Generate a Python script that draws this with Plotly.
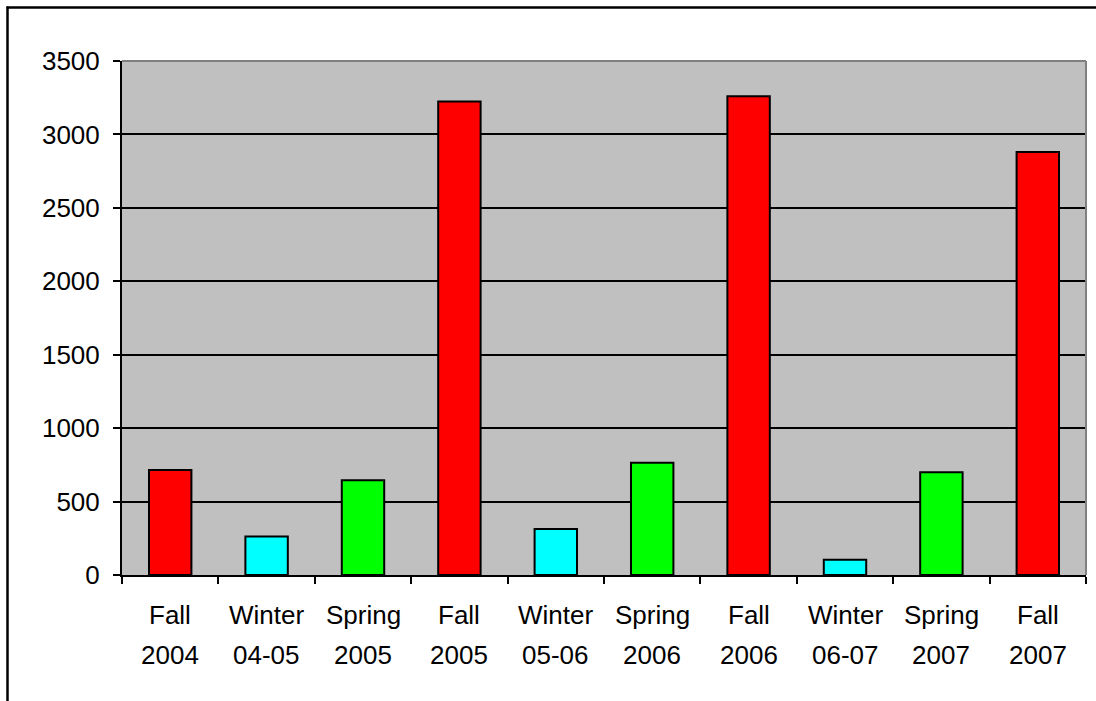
import plotly.graph_objects as go

# Seasonal totals
seasons = ["Fall", "Winter", "Spring", "Fall", "Winter", "Spring", "Fall", "Winter", "Spring", "Fall"]
periods = ["2004", "04-05", "2005", "2005", "05-06", "2006", "2006", "06-07", "2007", "2007"]
values = [715, 263, 645, 3225, 313, 765, 3260, 104, 699, 2880]
season_colors = {"Fall": "#FF0000", "Winter": "#00FFFF", "Spring": "#00FF00"}

categories = [f"{s} {p}" for s, p in zip(seasons, periods)]
bar_colors = [season_colors[s] for s in seasons]

W, H = 1096, 701
ML, MR, MT, MB = 122, 10, 61, 126
PW, PH = W - ML - MR, H - MT - MB

FONT = "Liberation Sans, Arial, sans-serif"
FS = 26

fig = go.Figure(
    go.Bar(
        x=categories,
        y=values,
        marker=dict(color=bar_colors, line=dict(color="black", width=2)),
        width=0.44,
        showlegend=False,
    )
)

# Two-line category labels under the axis
annotations = []
for cat, s, p in zip(categories, seasons, periods):
    for txt, ypix in ((s, 615), (p, 655)):
        annotations.append(dict(
            x=cat, xref="x", y=-(ypix - (MT + PH)) / PH, yref="paper",
            text=txt, showarrow=False, xanchor="center", yanchor="middle",
            font=dict(family=FONT, size=FS, color="black"),
        ))

def px_x(p):
    return (p - ML) / PW

def px_y(p):
    return (MT + PH - p) / PH

shapes = [
    # outer frame: left and top edges (the rest runs off the page)
    dict(type="line", xref="paper", yref="paper",
         x0=px_x(7.5), x1=px_x(7.5), y0=px_y(H), y1=px_y(6.5),
         line=dict(color="black", width=2.5)),
    dict(type="line", xref="paper", yref="paper",
         x0=px_x(6.5), x1=px_x(W), y0=px_y(7.5), y1=px_y(7.5),
         line=dict(color="black", width=2.5)),
    # gray top and right edges of the plot area
    dict(type="line", xref="paper", yref="paper", x0=0, x1=1, y0=1, y1=1,
         line=dict(color="#808080", width=2)),
    dict(type="line", xref="paper", yref="paper", x0=1, x1=1, y0=0, y1=1,
         line=dict(color="#808080", width=2)),
]

fig.update_layout(
    width=W, height=H,
    margin=dict(l=ML, r=MR, t=MT, b=MB),
    paper_bgcolor="white",
    plot_bgcolor="#C0C0C0",
    font=dict(family=FONT, size=FS, color="black"),
    annotations=annotations,
    shapes=shapes,
    xaxis=dict(
        type="category",
        showticklabels=False,
        ticks="outside", ticklen=7, tickwidth=2, tickcolor="black",
        tickson="boundaries",
        showline=True, linecolor="black", linewidth=2,
        showgrid=False, zeroline=False,
        range=[-0.5, 9.5],
    ),
    yaxis=dict(
        range=[0, 3500], dtick=500, tick0=0,
        ticks="outside", ticklen=7, tickwidth=2, tickcolor="black",
        showline=True, linecolor="black", linewidth=2,
        showgrid=True, gridcolor="black", gridwidth=2,
        zeroline=False,
        tickfont=dict(family=FONT, size=FS, color="black"),
        ticklabelstandoff=8,
    ),
)

fig.write_html("out.html", config={"displayModeBar": False})
